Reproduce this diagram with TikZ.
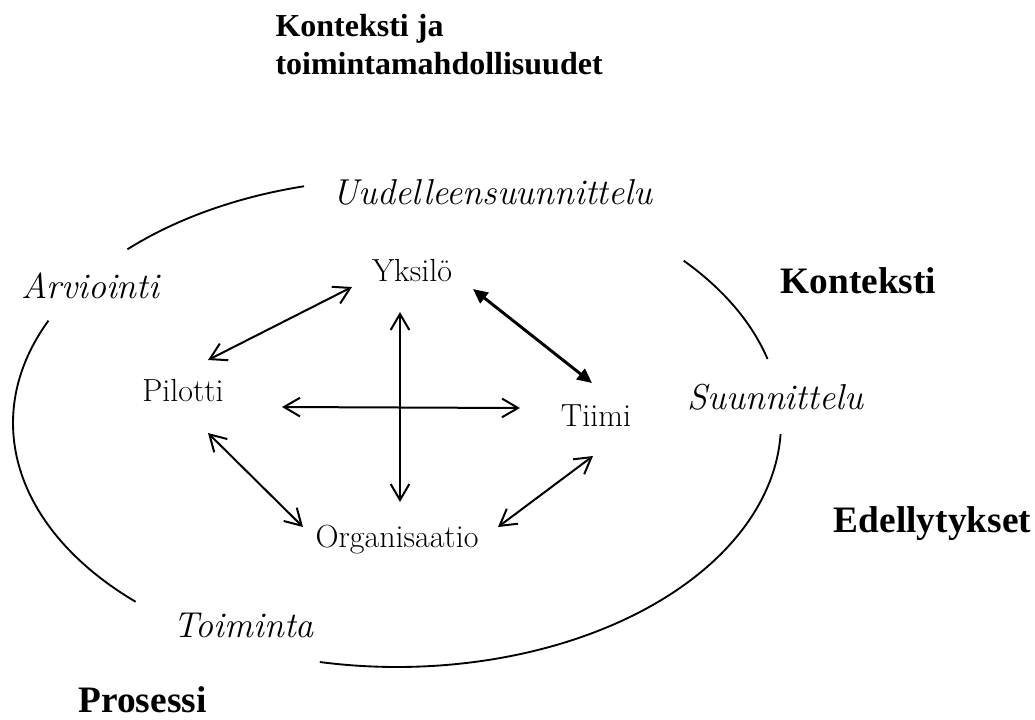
\documentclass[tikz,border=0pt]{standalone}
\usepackage{fontspec}
\newfontfamily\timesfont{Liberation Serif}
\usetikzlibrary{arrows.meta}

\tikzset{every picture/.style={line width=0.75pt}}

\begin{document}
\begin{tikzpicture}[x=0.75pt,y=0.75pt,yscale=-1,xscale=1,
  lbl/.style={inner sep=0pt, font=\fontsize{24}{28}\selectfont},
  itl/.style={inner sep=0pt, font=\fontsize{27}{32}\selectfont\itshape},
  bld/.style={inner sep=0pt, font=\fontsize{28}{33}\selectfont\timesfont\bfseries},
  ttlf/.style={inner sep=0pt, font=\fontsize{24}{28.5}\selectfont\timesfont\bfseries},
  oval/.style={line width=1.4pt},
  link/.style={line width=1.5pt, {Straight Barb[length=12pt,width=14pt]}-{Straight Barb[length=12pt,width=14pt]}},
  heavy/.style={line width=2.2pt, {Triangle[length=11pt,width=10pt]}-{Triangle[length=11pt,width=10pt]}}]
%set diagram left start at 0, and has height of 719
\useasboundingbox (0,0) rectangle (1035,719);

% Title
\node[ttlf, anchor=west] (ttl) at (275,48) {\begin{tabular}{@{}l@{}}Konteksti ja\\toimintamahdollisuudet\end{tabular}};

% Oval, broken where the phases stand
\coordinate (ctr) at (397,423);
\draw[oval] ([shift={(225.4:384 and 244)}]ctr) arc[start angle=225.4, end angle=256, x radius=384, y radius=244];
\draw[oval] ([shift={(132.9:384 and 244)}]ctr) arc[start angle=132.9, end angle=204.8, x radius=384, y radius=244];
\draw[oval] ([shift={(2.6:384 and 244)}]ctr) arc[start angle=2.6, end angle=101.6, x radius=384, y radius=244];
\draw[oval] ([shift={(-41.7:384 and 244)}]ctr) arc[start angle=-41.7, end angle=-15.2, x radius=384, y radius=244];

% Phase Nodes
\node[itl] (uud) at (492.5,192.5) {Uudelleensuunnittelu};
\node[itl] (arv) at (90.5,285.5) {Arviointi};
\node[itl] (suu) at (775.5,397.5) {Suunnittelu};
\node[itl] (toi) at (243.5,625.5) {Toiminta};

% Level Nodes
\node[lbl] (yks) at (412,271) {Yksilö};
\node[lbl] (pil) at (183,391) {Pilotti};
\node[lbl] (tii) at (596,416) {Tiimi};
\node[lbl] (org) at (397,540) {Organisaatio};

% Outer Nodes
\node[bld] (kon) at (858.5,280.5) {Konteksti};
\node[bld] (ede) at (932.5,524) {Edellytykset};
\node[bld] (pro) at (142.5,700) {Prosessi};

% Connection
\draw[link] ([shift={(-60,16)}]yks.center) -- ([shift={(25,-31)}]pil.center);
% Connection
\draw[heavy] ([shift={(61,18)}]yks.center) -- ([shift={(-4,-33)}]tii.center);
% Connection
\draw[link] ([shift={(-12,41)}]yks.center) -- ([shift={(3,-38)}]org.center);
% Connection
\draw[link] ([shift={(99,16)}]pil.center) -- ([shift={(-76,-8)}]tii.center);
% Connection
\draw[link] ([shift={(25,42)}]pil.center) -- ([shift={(-94,-13)}]org.center);
% Connection
\draw[link] ([shift={(-3,40)}]tii.center) -- ([shift={(101,-13)}]org.center);

\end{tikzpicture}
\end{document}
